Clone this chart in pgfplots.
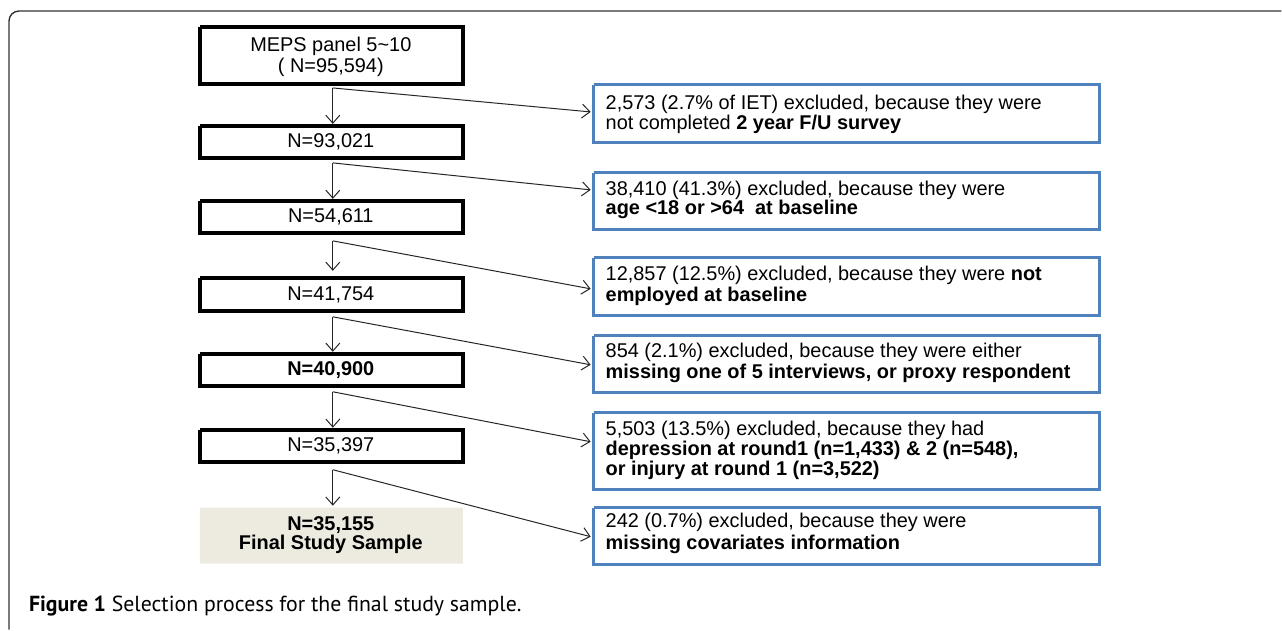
\documentclass[border=0pt]{standalone}
\usepackage{fontspec}
\setmainfont{Liberation Sans}
\newfontfamily\capfont{PT Sans}
\usepackage{pgfplots}
\pgfplotsset{compat=1.18}
\usetikzlibrary{arrows.meta}
\definecolor{boxblue}{HTML}{4F81BD}
\definecolor{beige}{HTML}{EDEBE0}
\begin{document}
\begin{tikzpicture}
\begin{axis}[hide axis, scale only axis, width=641bp, height=315bp,
  xmin=0, xmax=1282, ymin=0, ymax=630, y dir=reverse, clip=false,
  every node/.style={font=\fontsize{10bp}{11bp}\selectfont, inner sep=0pt}]
% outer frame
\addplot[draw=black!80, line width=0.7bp, rounded corners=5bp] coordinates {(9,630) (9,11) (1282,11)};
% background extent
\addplot[draw=none] coordinates {(0,0) (1282,630)};
% left boxes
\addplot[black, line width=1.8bp] coordinates {(200,27) (463,27) (463,84) (200,84) (200,27)};
\addplot[black, line width=1.8bp] coordinates {(200,126) (463,126) (463,158) (200,158) (200,126)};
\addplot[black, line width=1.8bp] coordinates {(200,201) (463,201) (463,233) (200,233) (200,201)};
\addplot[black, line width=1.8bp] coordinates {(200,278) (463,278) (463,311) (200,311) (200,278)};
\addplot[black, line width=1.8bp] coordinates {(200,354) (463,354) (463,386) (200,386) (200,354)};
\addplot[black, line width=1.8bp] coordinates {(200,430) (463,430) (463,462) (200,462) (200,430)};
\addplot[fill=beige, draw=none] coordinates {(200,508) (463,508) (463,564) (200,564) (200,508)};
% right boxes
\addplot[boxblue, line width=1.5bp] coordinates {(594,85) (1100,85) (1100,143) (594,143) (594,85)};
\addplot[boxblue, line width=1.5bp] coordinates {(594,173) (1100,173) (1100,230) (594,230) (594,173)};
\addplot[boxblue, line width=1.5bp] coordinates {(594,258) (1100,258) (1100,316) (594,316) (594,258)};
\addplot[boxblue, line width=1.5bp] coordinates {(594,336) (1100,336) (1100,393) (594,393) (594,336)};
\addplot[boxblue, line width=1.5bp] coordinates {(594,413) (1100,413) (1100,490) (594,490) (594,413)};
\addplot[boxblue, line width=1.5bp] coordinates {(594,508) (1100,508) (1100,565) (594,565) (594,508)};
% arrows
\pgfplotsset{arr/.style={black!85, line width=0.5bp, -{Straight Barb[length=4bp,width=7bp]}}}
\addplot[arr] coordinates {(333,88) (333,124)};
\addplot[arr] coordinates {(333,88) (591,112)};
\addplot[arr] coordinates {(333,163) (333,199)};
\addplot[arr] coordinates {(333,163) (591,190)};
\addplot[arr] coordinates {(333,241) (333,271)};
\addplot[arr] coordinates {(333,241) (591,289)};
\addplot[arr] coordinates {(333,317) (333,352)};
\addplot[arr] coordinates {(333,317) (591,365)};
\addplot[arr] coordinates {(333,392) (333,428)};
\addplot[arr] coordinates {(333,392) (591,442)};
\addplot[arr] coordinates {(333,470) (333,506)};
\addplot[arr] coordinates {(333,470) (591,537)};
% left texts
\node at (axis cs:331,46) {MEPS panel 5\textasciitilde 10};
\node at (axis cs:331,67) {( N=95,594)};
\node at (axis cs:331,142) {N=93,021};
\node at (axis cs:331,217) {N=54,611};
\node at (axis cs:331,295) {N=41,754};
\node at (axis cs:331,370) {\bfseries N=40,900};
\node at (axis cs:331,446) {N=35,397};
\node at (axis cs:331,525) {\bfseries N=35,155};
\node at (axis cs:331,545) {\bfseries Final Study Sample};
% right texts
\node[anchor=west] at (axis cs:599,104) {2,573 (2.7\% of IET) excluded, because they were};
\node[anchor=west] at (axis cs:599,124) {not completed \textbf{2 year F/U survey}};
\node[anchor=west] at (axis cs:599,190) {38,410 (41.3\%) excluded, because they were};
\node[anchor=west] at (axis cs:599,210) {\textbf{age <18 or >64~ at baseline}};
\node[anchor=west] at (axis cs:599,276) {12,857 (12.5\%) excluded, because they were \textbf{not}};
\node[anchor=west] at (axis cs:599,297) {\textbf{employed at baseline}};
\node[anchor=west] at (axis cs:599,353) {854 (2.1\%) excluded, because they were either};
\node[anchor=west] at (axis cs:599,374) {\bfseries missing one of 5 interviews, or proxy respondent};
\node[anchor=west] at (axis cs:599,431) {5,503 (13.5\%) excluded, because they had};
\node[anchor=west] at (axis cs:599,451) {\bfseries depression at round1 (n=1,433) \& 2 (n=548),};
\node[anchor=west] at (axis cs:599,471) {\bfseries or injury at round 1 (n=3,522)};
\node[anchor=west] at (axis cs:599,523) {242 (0.7\%) excluded, because they were};
\node[anchor=west] at (axis cs:599,545) {\bfseries missing covariates information};
% caption
\node[anchor=west, font=\capfont\fontsize{10.9bp}{12bp}\selectfont] at (axis cs:22,606) {\textbf{Figure 1} Selection process for the final study sample.};
\end{axis}
\end{tikzpicture}
\end{document}
